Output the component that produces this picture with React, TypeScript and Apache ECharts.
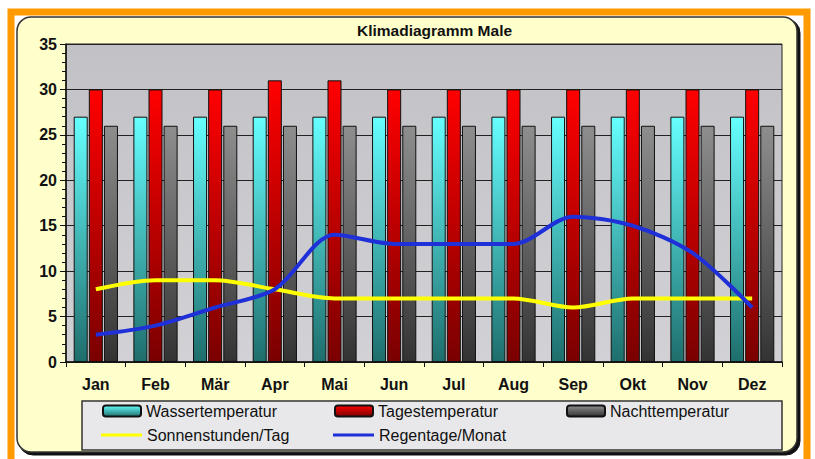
import React, { useEffect, useRef } from "react";
import * as echarts from "echarts";

const months = ["Jan", "Feb", "Mär", "Apr", "Mai", "Jun", "Jul", "Aug", "Sep", "Okt", "Nov", "Dez"];
const wasser = [27, 27, 27, 27, 27, 27, 27, 27, 27, 27, 27, 27];
const tages = [30, 30, 30, 31, 31, 30, 30, 30, 30, 30, 30, 30];
const nacht = [26, 26, 26, 26, 26, 26, 26, 26, 26, 26, 26, 26];
const sonne = [8, 9, 9, 8, 7, 7, 7, 7, 6, 7, 7, 7];
const regen = [3, 4, 6, 8, 14, 13, 13, 13, 16, 15, 12, 6];
const yMax = 35;
const yStep = 5;

const FONT = "Arial, 'Liberation Sans', sans-serif";

const grad = (top: string, bottom: string) =>
  new echarts.graphic.LinearGradient(0, 0, 0, 1, [
    { offset: 0, color: top },
    { offset: 1, color: bottom },
  ]);

export default function App() {
  const ref = useRef<HTMLDivElement>(null);
  useEffect(() => {
    document.body.style.margin = "0";
    const chart = echarts.init(ref.current!, null, { renderer: "svg" });
    const legendText = { fontFamily: FONT, fontSize: 16, color: "#111" };
    const legendBase = {
      orient: "horizontal",
      padding: 0,
      selectedMode: false,
      textStyle: legendText,
    };
    chart.setOption({
      animation: false,
      backgroundColor: "#ffffff",
      title: {
        text: "Klimadiagramm Male",
        left: 357,
        top: 22,
        padding: 0,
        textStyle: { fontFamily: FONT, fontSize: 15.5, fontWeight: "bold", color: "#111" },
      },
      graphic: [
        {
          type: "rect",
          z: -100,
          silent: true,
          shape: { x: 11, y: 12, width: 796, height: 470 },
          style: { fill: "none", stroke: "#FF9A00", lineWidth: 7 },
        },
        {
          type: "rect",
          z: -90,
          silent: true,
          shape: { x: 19, y: 19, width: 781, height: 436, r: 14 },
          style: { fill: "#111", stroke: "#111", lineWidth: 1 },
        },
        {
          type: "rect",
          z: -80,
          silent: true,
          shape: { x: 17, y: 17, width: 780, height: 435, r: 14 },
          style: { fill: "#FFFFCC", stroke: "#333", lineWidth: 1.5 },
        },
        {
          type: "rect",
          z: -70,
          silent: true,
          shape: { x: 82, y: 401, width: 700, height: 49 },
          style: { fill: "#E8E8EA", stroke: "#333", lineWidth: 1.5 },
        },
      ],
      legend: [
        { ...legendBase, data: [{ name: "Wassertemperatur", icon: "roundRect" }], left: 102, top: 403, itemWidth: 38, itemHeight: 11 },
        { ...legendBase, data: [{ name: "Tagestemperatur", icon: "roundRect" }], left: 334, top: 403, itemWidth: 38, itemHeight: 11 },
        { ...legendBase, data: [{ name: "Nachttemperatur", icon: "roundRect" }], left: 566, top: 403, itemWidth: 38, itemHeight: 11 },
        { ...legendBase, data: [{ name: "Sonnenstunden/Tag", icon: "rect" }], left: 101, top: 427, itemWidth: 41, itemHeight: 3 },
        { ...legendBase, data: [{ name: "Regentage/Monat", icon: "rect" }], left: 333, top: 427, itemWidth: 41, itemHeight: 3 },
      ],
      grid: {
        left: 66,
        right: 33,
        top: 44,
        bottom: 97,
        show: true,
        backgroundColor: grad("#C2C2C6", "#D2D2D6"),
        borderColor: "#222",
        borderWidth: 1,
      },
      xAxis: {
        type: "category",
        data: months,
        axisLine: { lineStyle: { color: "#111", width: 1.5 } },
        axisTick: { show: true, length: 5, lineStyle: { color: "#111" } },
        axisLabel: { fontFamily: FONT, fontSize: 16, fontWeight: "bold", color: "#111", margin: 14 },
      },
      yAxis: {
        type: "value",
        min: 0,
        max: yMax,
        interval: yStep,
        axisLine: { show: true, lineStyle: { color: "#111", width: 1.5 } },
        axisTick: { show: true, length: 6, lineStyle: { color: "#111" } },
        minorTick: { show: true, splitNumber: 5, length: 4, lineStyle: { color: "#111" } },
        splitLine: { show: true, lineStyle: { color: "#222", width: 1 } },
        axisLabel: { fontFamily: FONT, fontSize: 16, fontWeight: "bold", color: "#111", margin: 9 },
      },
      series: [
        {
          name: "Wassertemperatur",
          type: "bar",
          data: wasser,
          barWidth: 14,
          barGap: "8%",
          itemStyle: { color: grad("#66FFFF", "#1E6E6C"), borderColor: "#111", borderWidth: 1 },
        },
        {
          name: "Tagestemperatur",
          type: "bar",
          data: tages,
          barWidth: 14,
          barGap: "8%",
          itemStyle: { color: grad("#FF0000", "#7A0000"), borderColor: "#111", borderWidth: 1 },
        },
        {
          name: "Nachttemperatur",
          type: "bar",
          data: nacht,
          barWidth: 14,
          barGap: "8%",
          itemStyle: { color: grad("#8E8E8E", "#333333"), borderColor: "#111", borderWidth: 1 },
        },
        {
          name: "Sonnenstunden/Tag",
          type: "line",
          data: sonne,
          smooth: 0.3,
          symbol: "none",
          z: 5,
          lineStyle: { color: "#FFFF00", width: 4 },
          itemStyle: { color: "#FFFF00" },
        },
        {
          name: "Regentage/Monat",
          type: "line",
          data: regen,
          smooth: 0.3,
          symbol: "none",
          z: 6,
          lineStyle: { color: "#2030D8", width: 4 },
          itemStyle: { color: "#2030D8" },
        },
      ],
    });
    return () => chart.dispose();
  }, []);
  return <div ref={ref} style={{ width: 815, height: 459, position: "absolute", left: 0, top: 0 }} />;
}
